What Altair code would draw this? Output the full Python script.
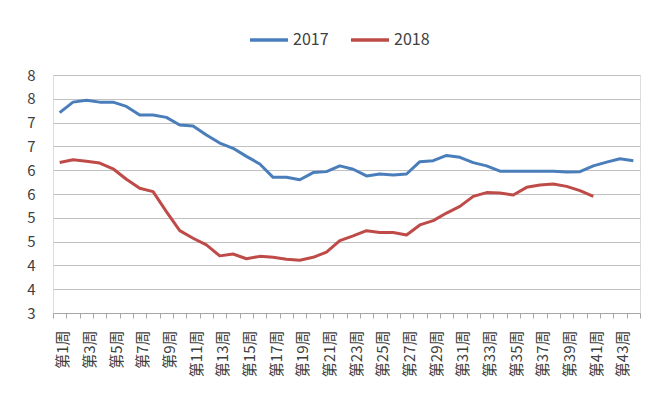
import altair as alt
import pandas as pd

weeks = [f"第{i}周" for i in range(1, 45)]
v2017 = [7.21, 7.43, 7.47, 7.43, 7.43, 7.34, 7.16, 7.16, 7.11, 6.95,
         6.93, 6.74, 6.57, 6.46, 6.29, 6.13, 5.85, 5.85, 5.80, 5.95,
         5.97, 6.09, 6.02, 5.88, 5.92, 5.90, 5.92, 6.18, 6.20, 6.31,
         6.27, 6.16, 6.09, 5.98, 5.98, 5.98, 5.98, 5.98, 5.96, 5.97,
         6.09, 6.17, 6.24, 6.20]
v2018 = [6.16, 6.22, 6.19, 6.15, 6.03, 5.81, 5.62, 5.55, 5.13, 4.73,
         4.57, 4.43, 4.20, 4.24, 4.14, 4.19, 4.17, 4.13, 4.11, 4.17,
         4.28, 4.52, 4.62, 4.73, 4.69, 4.69, 4.64, 4.85, 4.94, 5.10,
         5.24, 5.45, 5.53, 5.52, 5.48, 5.64, 5.69, 5.71, 5.66, 5.57,
         5.45]
years = ["2017", "2018"]
colors = ["#4a7ebb", "#be4b48"]
y_ticks = [3, 3.5, 4, 4.5, 5, 5.5, 6, 6.5, 7, 7.5, 8]

rows = []
for w, v in zip(weeks, v2017):
    rows.append({"week": w, "year": "2017", "value": v})
for w, v in zip(weeks, v2018):
    rows.append({"week": w, "year": "2018", "value": v})
df = pd.DataFrame(rows)

label_expr = "toNumber(replace(replace(datum.label, '第', ''), '周', '')) % 2 == 1 ? datum.label : ''"

chart = alt.Chart(df).mark_line(strokeWidth=3, strokeJoin="round").encode(
    x=alt.X("week:N", sort=weeks, bandPosition=0.5,
            scale=alt.Scale(type="band", paddingInner=0, paddingOuter=0),
            axis=alt.Axis(title=None, labelAngle=270, labelExpr=label_expr,
                          labelOverlap=False, tickBand="extent", ticks=True,
                          tickSize=5, tickColor="#a6a6a6", domainColor="#a6a6a6",
                          labelFont="Noto Sans CJK SC", labelFontSize=15,
                          labelColor="#404040", labelPadding=12, labelOffset=3,
                          grid=False)),
    y=alt.Y("value:Q", scale=alt.Scale(domain=[3, 8], nice=False, zero=False),
            axis=alt.Axis(title=None, values=y_ticks, format=".0f", domain=False,
                          ticks=False, grid=True, gridColor="#c0c0c0",
                          labelFont="Noto Sans CJK SC", labelFontSize=15,
                          labelColor="#404040", labelPadding=18)),
    color=alt.Color("year:N", scale=alt.Scale(domain=years, range=colors),
                    legend=alt.Legend(title=None, orient="none", direction="horizontal",
                                      legendX=195, legendY=-56,
                                      symbolType="stroke", symbolStrokeWidth=3.5,
                                      symbolSize=1450, labelFontSize=16,
                                      labelFont="Noto Sans CJK SC",
                                      labelColor="#404040", columnPadding=14,
                                      labelOffset=3)),
).properties(
    width=587, height=238,
    autosize=alt.AutoSizeParams(type="none"),
    padding={"left": 45, "top": 67, "right": 5, "bottom": 95},
).configure_view(stroke=None).configure(background="white")

chart.save("out.html", embed_options={"renderer": "svg", "actions": False})
